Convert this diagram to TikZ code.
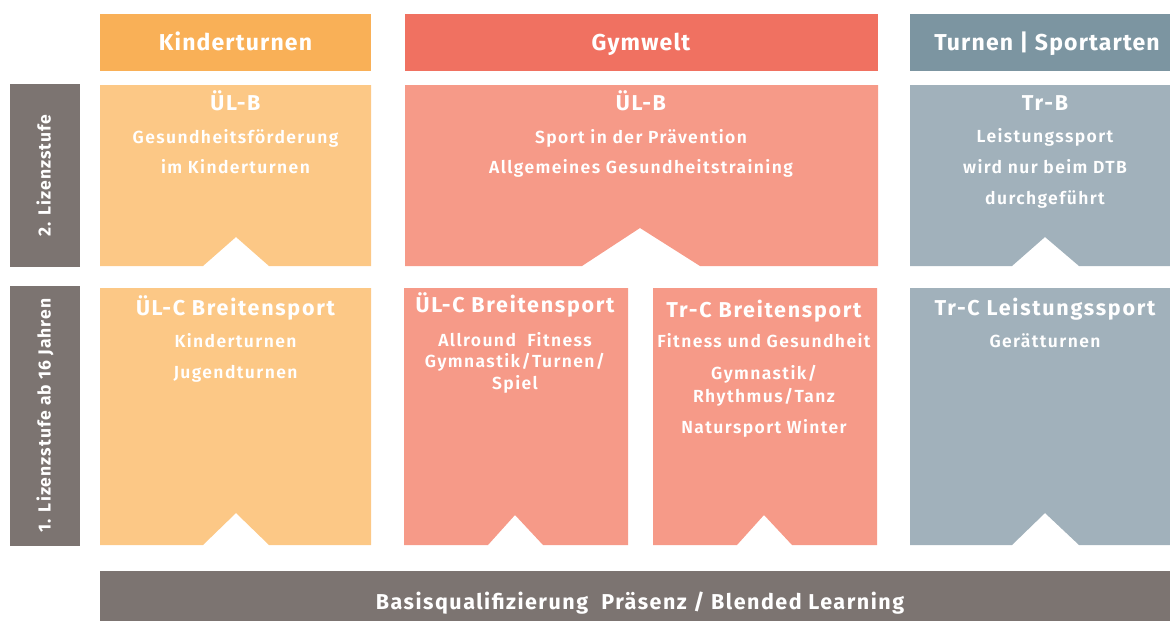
\documentclass[tikz,border=0pt]{standalone}
\usepackage{fontspec}
\setmainfont{Fira Sans}
\newfontfamily\headfont{Fira Sans}[LetterSpace=5]
\newfontfamily\titlefont{Fira Sans}[LetterSpace=8]
\newfontfamily\basisfont{Fira Sans}[LetterSpace=7]
\newfontfamily\sidefont{Fira Sans}[LetterSpace=6]
\newfontfamily\semifont{Fira Sans}[UprightFont=* SemiBold,LetterSpace=8]
\definecolor{kinderhead}{HTML}{F9B057}
\definecolor{kinderbox}{HTML}{FCC886}
\definecolor{gymhead}{HTML}{F07161}
\definecolor{gymbox}{HTML}{F69A88}
\definecolor{turnhead}{HTML}{7C95A1}
\definecolor{turnbox}{HTML}{A1B1BB}
\definecolor{stufegrey}{HTML}{7C7471}
\tikzset{
	headbox/.style={fill=#1,text=white,minimum height=57pt,inner sep=0pt,text height=16pt,text depth=0pt,font=\fontsize{23}{26}\selectfont\headfont\bfseries},
	sidebox/.style={fill=stufegrey,text=white,rotate=90,minimum height=70pt,inner sep=0pt,text height=12pt,text depth=0pt,font=\fontsize{17.5}{20}\selectfont\sidefont\bfseries},
	ttl/.style={text=white,anchor=base,inner sep=0pt,font=\fontsize{21.5}{25}\selectfont\titlefont\bfseries},
	txt/.style={text=white,anchor=base,inner sep=0pt,font=\fontsize{17.5}{20}\selectfont\semifont}
}
\begin{document}
\begin{tikzpicture}[x=1pt,y=-1pt]
	\useasboundingbox (0,0) rectangle (1170,621);

	\node[headbox=kinderhead,minimum width=271pt] (kinderkopf) at (235.5,42.5) {Kinderturnen};
	\node[headbox=gymhead,minimum width=473pt] (gymkopf) at (641,42.5) {Gymwelt};
	\node[headbox=turnhead,minimum width=274pt] (turnkopf) at (1047,42.5) {Turnen | Sportarten};

	\node[sidebox,minimum width=183pt] (stufezwei) at (44.5,175.5) {2. Lizenzstufe};
	\node[sidebox,minimum width=260pt] (stufeeins) at (44.5,415.5) {1. Lizenzstufe ab 16 Jahren};

	\fill[kinderbox] (100,85) -- (371,85) -- (371,266) -- (269,266) -- (236,237) -- (203,266) -- (100,266) -- cycle;
	\fill[gymbox] (405,85) -- (878,85) -- (878,266) -- (700,266) -- (640,228) -- (582,266) -- (405,266) -- cycle;
	\fill[turnbox] (910,85) -- (1184,85) -- (1184,266) -- (1079,266) -- (1045,237) -- (1012,266) -- (910,266) -- cycle;

	\fill[kinderbox] (100,288) -- (371,288) -- (371,545) -- (269,545) -- (236,513) -- (203,545) -- (100,545) -- cycle;
	\fill[gymbox] (404,288) -- (628,288) -- (628,545) -- (543,545) -- (515,515) -- (488,545) -- (404,545) -- cycle;
	\fill[gymbox] (653,288) -- (877,288) -- (877,545) -- (792,545) -- (764,515) -- (737,545) -- (653,545) -- cycle;
	\fill[turnbox] (910,288) -- (1184,288) -- (1184,545) -- (1079,545) -- (1045,513) -- (1012,545) -- (910,545) -- cycle;

	\node[ttl] (kbtitel) at (235.5,110) {ÜL-B};
	\node[txt] (kbeins) at (235.5,143) {Gesundheitsförderung};
	\node[txt] (kbzwei) at (235.5,173) {im Kinderturnen};

	\node[ttl] (gbtitel) at (641,110) {ÜL-B};
	\node[txt] (gbeins) at (641,143) {Sport in der Prävention};
	\node[txt] (gbzwei) at (641,173) {Allgemeines Gesundheitstraining};

	\node[ttl] (tbtitel) at (1045,110) {Tr-B};
	\node[txt] (tbeins) at (1045,142) {Leistungssport};
	\node[txt] (tbzwei) at (1045,173) {wird nur beim DTB};
	\node[txt] (tbdrei) at (1045,204) {durchgeführt};

	\node[ttl] (kctitel) at (235.5,315) {ÜL-C Breitensport};
	\node[txt] (kceins) at (235.5,347) {Kinderturnen};
	\node[txt] (kczwei) at (235.5,378) {Jugendturnen};

	\node[ttl] (gctitel) at (515,312) {ÜL-C Breitensport};
	\node[txt] (gceins) at (515,346) {Allround~~Fitness};
	\node[txt] (gczwei) at (515,367) {Gymnastik/Turnen/};
	\node[txt] (gcdrei) at (515,389) {Spiel};

	\node[ttl] (tctitel) at (764,317) {Tr-C Breitensport};
	\node[txt] (tceins) at (764,347) {Fitness und Gesundheit};
	\node[txt] (tczwei) at (764,379) {Gymnastik/};
	\node[txt] (tcdrei) at (764,402) {Rhythmus/Tanz};
	\node[txt] (tcvier) at (764,433) {Natursport Winter};

	\node[ttl] (lctitel) at (1045,315) {Tr-C Leistungssport};
	\node[txt] (lceins) at (1045,347) {Gerätturnen};

	\node[headbox=stufegrey,minimum width=1080pt,minimum height=51pt,text height=26pt,font=\fontsize{21.5}{25}\selectfont\basisfont\bfseries] (basis) at (640,596) {Basisqualifizierung~~Präsenz / Blended Learning};
\end{tikzpicture}
\end{document}
